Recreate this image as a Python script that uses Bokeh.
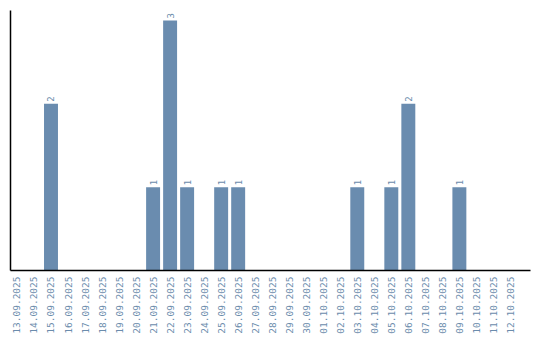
import math
from bokeh.plotting import figure
from bokeh.models import ColumnDataSource, Range1d, FixedTicker
from bokeh.core.properties import value
from bokeh.embed import file_html
from bokeh.resources import INLINE

dates = ["13.09.2025", "14.09.2025", "15.09.2025", "16.09.2025", "17.09.2025",
         "18.09.2025", "19.09.2025", "20.09.2025", "21.09.2025", "22.09.2025",
         "23.09.2025", "24.09.2025", "25.09.2025", "26.09.2025", "27.09.2025",
         "28.09.2025", "29.09.2025", "30.09.2025", "01.10.2025", "02.10.2025",
         "03.10.2025", "04.10.2025", "05.10.2025", "06.10.2025", "07.10.2025",
         "08.10.2025", "09.10.2025", "10.10.2025", "11.10.2025", "12.10.2025"]
counts = [0, 0, 2, 0, 0, 0, 0, 0, 1, 3,
          1, 0, 1, 1, 0, 0, 0, 0, 0, 0,
          1, 0, 1, 2, 0, 0, 1, 0, 0, 0]

bar_color = "#6a8caf"
label_color = "#6b8cac"

idx = list(range(len(dates)))
nz = [(i, c) for i, c in zip(idx, counts) if c > 0]
src = ColumnDataSource(dict(x=idx, top=counts))
lab = ColumnDataSource(dict(x=[i for i, _ in nz], y=[c for _, c in nz],
                            t=[str(c) for _, c in nz]))

p = figure(width=540, height=340, x_range=Range1d(-0.38, 30.18),
           y_range=(0, 3.12), output_backend="svg", toolbar_location=None,
           min_border_left=10, min_border_right=10, min_border_top=10,
           min_border_bottom=70)
p.outline_line_color = None
p.grid.visible = False

p.vbar(x="x", top="top", width=0.82, source=src, color=bar_color, line_color=None)
p.text(x="x", y="y", text="t", source=lab, angle=math.pi / 2,
       text_align="left", text_baseline="middle", x_offset=0, y_offset=-2,
       text_color=label_color, text_font_size="9px",
       text_font=value("DejaVu Sans Mono"))

p.xaxis.ticker = FixedTicker(ticks=idx)
p.xaxis.major_label_overrides = {i: d for i, d in zip(idx, dates)}
p.xaxis.major_label_orientation = math.pi / 2
p.xaxis.major_label_text_color = label_color
p.xaxis.major_label_text_font_size = "9.5px"
p.xaxis.major_label_text_font = "DejaVu Sans Mono"
p.xaxis.major_tick_line_color = None
p.xaxis.minor_tick_line_color = None
p.xaxis.major_tick_in = 0
p.xaxis.major_tick_out = 0
p.xaxis.major_label_standoff = 6
p.xaxis.axis_line_color = "black"
p.xaxis.axis_line_width = 1.5

p.yaxis.ticker = FixedTicker(ticks=[])
p.yaxis.major_tick_line_color = None
p.yaxis.minor_tick_line_color = None
p.yaxis.major_label_text_font_size = "0px"
p.yaxis.axis_line_color = "black"
p.yaxis.axis_line_width = 1.5

open("out.html", "w").write(file_html(p, INLINE))
